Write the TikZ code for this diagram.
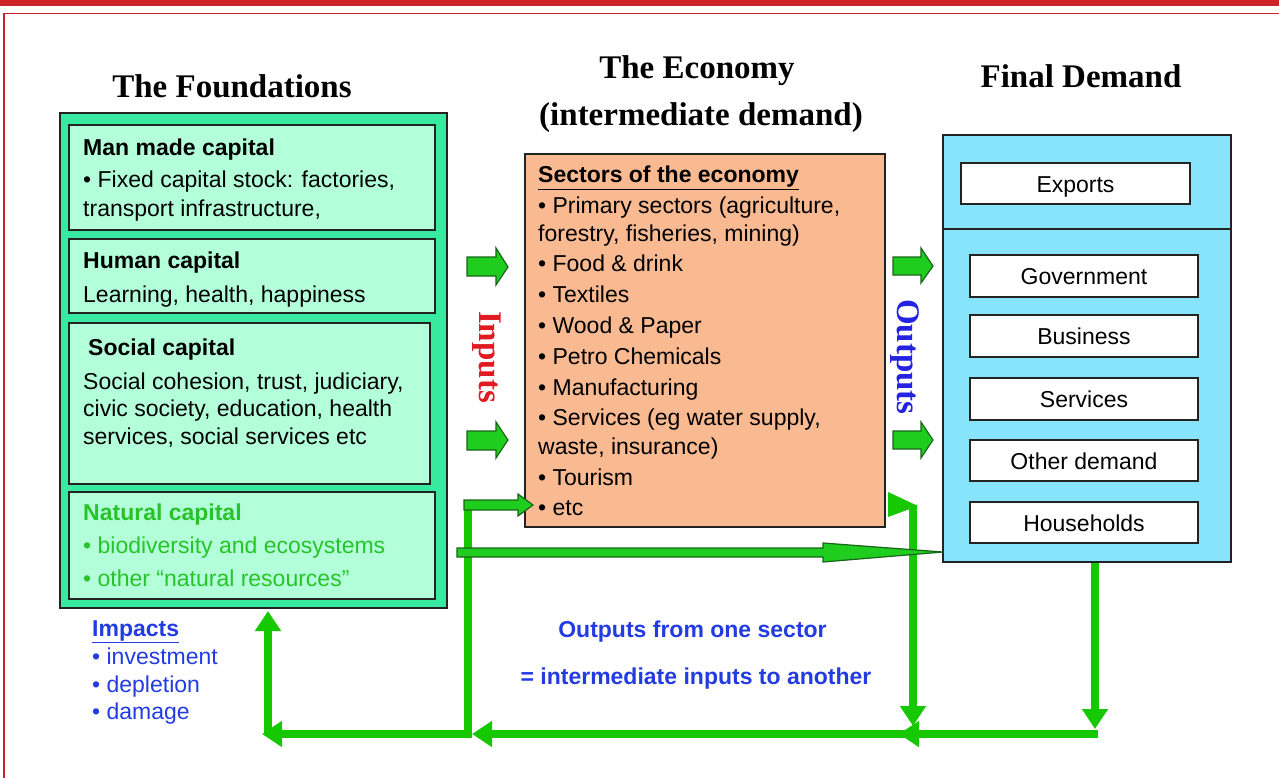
\documentclass[tikz,border=0pt]{standalone}
\usepackage{fontspec}
\setmainfont{Liberation Sans}
\newfontfamily\headfont{Liberation Serif}
\usetikzlibrary{arrows.meta}
\definecolor{bordred}{RGB}{204,34,41}
\definecolor{fgreen}{RGB}{55,234,160}
\definecolor{mint}{RGB}{178,255,218}
\definecolor{peach}{RGB}{249,186,146}
\definecolor{sky}{RGB}{136,228,250}
\definecolor{glinec}{RGB}{22,200,0}
\definecolor{garrow}{RGB}{30,205,30}
\definecolor{natgreen}{RGB}{40,195,40}
\definecolor{txtblue}{RGB}{35,60,225}
\definecolor{outblue}{RGB}{35,35,225}
\definecolor{inred}{RGB}{225,25,35}
\definecolor{edgec}{RGB}{35,35,35}
\begin{document}
\begin{tikzpicture}[x=1pt,y=-1pt,
  box/.style={draw=edgec, line width=1.8pt, inner sep=0pt},
  txt/.style={anchor=base west, inner sep=0pt, font=\fontsize{23}{28}\selectfont},
  ctxt/.style={anchor=base, inner sep=0pt, font=\fontsize{23}{28}\selectfont},
  head/.style={anchor=base, inner sep=0pt, font=\headfont\bfseries\fontsize{33}{40}\selectfont},
  gl/.style={draw=glinec, line width=7.5pt},
  tip/.style={-{Triangle[length=20pt,width=25pt]}},
  barrow/.style={fill=garrow, draw=edgec!70!green, line width=1.2pt, line join=miter}]
\useasboundingbox (0,0) rectangle (1279,778);
% frame
\fill[bordred] (0,0) rectangle (1279,6);
\draw[bordred, line width=1.5pt] (4,778) -- (4,13.3) -- (1279,13.3);
% headings
\node[head] (hfound) at (232,98) {The Foundations};
\node[head] (hecon1) at (697,79) {The Economy};
\node[head] (hecon2) at (701,126) {(intermediate demand)};
\node[head] (hfinal) at (1081,88) {Final Demand};
% foundations
\node[box, fill=fgreen, minimum width=387pt, minimum height=495pt] (found) at (253.5,360.5) {};
\node[box, fill=mint, minimum width=366pt, minimum height=105pt] (mm) at (252,177.5) {};
\node[box, fill=mint, minimum width=366pt, minimum height=74pt] (hc) at (252,276) {};
\node[box, fill=mint, minimum width=361pt, minimum height=161pt] (sc) at (249.5,403.5) {};
\node[box, fill=mint, minimum width=366pt, minimum height=107pt] (nc) at (252,545.5) {};
\node[txt, font=\bfseries\fontsize{23}{28}\selectfont] (mm1) at (83,156) {Man made capital};
\node[txt] (mm2) at (83,188) {• Fixed capital stock: factories,};
\node[txt] (mm3) at (83,217) {transport infrastructure,};
\node[txt, font=\bfseries\fontsize{23}{28}\selectfont] (hc1) at (83,268) {Human capital};
\node[txt] (hc2) at (83,302) {Learning, health, happiness};
\node[txt, font=\bfseries\fontsize{23}{28}\selectfont] (sc1) at (88,355) {Social capital};
\node[txt] (sc2) at (83,389) {Social cohesion, trust, judiciary,};
\node[txt] (sc3) at (83,416) {civic society, education, health};
\node[txt] (sc4) at (83,444) {services, social services etc};
\node[txt, text=natgreen, font=\bfseries\fontsize{23}{28}\selectfont] (nc1) at (83,520) {Natural capital};
\node[txt, text=natgreen] (nc2) at (83,553) {• biodiversity and ecosystems};
\node[txt, text=natgreen] (nc3) at (83,586) {• other “natural resources”};
% economy
\node[box, fill=peach, minimum width=360pt, minimum height=373pt] (econ) at (705,340.5) {};
\node[txt, font=\bfseries\fontsize{23}{28}\selectfont] (e0) at (538,183) {\underline{Sectors of the economy}};
\node[txt] (e1) at (538,213) {• Primary sectors (agriculture,};
\node[txt] (e2) at (538,241) {forestry, fisheries, mining)};
\node[txt] (e3) at (538,271) {• Food \& drink};
\node[txt] (e4) at (538,302) {• Textiles};
\node[txt] (e5) at (538,333) {• Wood \& Paper};
\node[txt] (e6) at (538,364) {• Petro Chemicals};
\node[txt] (e7) at (538,395) {• Manufacturing};
\node[txt] (e8) at (538,425) {• Services (eg water supply,};
\node[txt] (e9) at (538,454) {waste, insurance)};
\node[txt] (e10) at (538,485) {• Tourism};
\node[txt] (e11) at (538,515) {• etc};
% final demand
\node[box, fill=sky, minimum width=288pt, minimum height=427pt] (fd) at (1087,348.5) {};
\draw[edgec, line width=1.8pt] (fd.west |- 0,229) -- (fd.east |- 0,229);
\node[box, fill=white, minimum width=229pt, minimum height=41pt] (exp) at (1075.5,183.5) {};
\node[box, fill=white, minimum width=228pt, minimum height=42pt] (gov) at (1084,276) {};
\node[box, fill=white, minimum width=228pt, minimum height=42pt] (bus) at (1084,336) {};
\node[box, fill=white, minimum width=228pt, minimum height=42pt] (ser) at (1084,399) {};
\node[box, fill=white, minimum width=228pt, minimum height=41pt] (oth) at (1084,460.5) {};
\node[box, fill=white, minimum width=228pt, minimum height=41pt] (hh) at (1084,522.5) {};
\node[ctxt] (lexp) at (1075.5,193) {Exports};
\node[ctxt] (lgov) at (1084,284.5) {Government};
\node[ctxt] (lbus) at (1084,344.5) {Business};
\node[ctxt] (lser) at (1084,407.5) {Services};
\node[ctxt] (loth) at (1084,469) {Other demand};
\node[ctxt] (lhh) at (1084,531) {Households};
% inputs / outputs
\node[rotate=-90, inner sep=0pt, text=inred, font=\headfont\bfseries\fontsize{33}{40}\selectfont] (inputs) at (487,357) {Inputs};
\node[rotate=-90, inner sep=0pt, text=outblue, font=\headfont\bfseries\fontsize{33}{40}\selectfont] (outputs) at (905,357) {Outputs};
\draw[barrow] (467,257) -- (496,257) -- (496,248) -- (508,267) -- (496,285) -- (496,276) -- (467,276) -- cycle;
\draw[barrow] (467,431) -- (496,431) -- (496,422) -- (508,440) -- (496,458) -- (496,450) -- (467,450) -- cycle;
\draw[barrow] (893,257) -- (921,257) -- (921,248) -- (933,266) -- (921,283) -- (921,275) -- (893,275) -- cycle;
\draw[barrow] (893,431) -- (921,431) -- (921,422) -- (933,440) -- (921,458) -- (921,449) -- (893,449) -- cycle;
% texts below
\node[txt, text=txtblue, font=\bfseries\fontsize{23}{28}\selectfont] (imp0) at (92,636) {\underline{Impacts}};
\node[txt, text=txtblue] (imp1) at (92,664) {• investment};
\node[txt, text=txtblue] (imp2) at (92,692) {• depletion};
\node[txt, text=txtblue] (imp3) at (92,719) {• damage};
\node[ctxt, text=txtblue, font=\bfseries\fontsize{23}{28}\selectfont] (o1) at (692.5,637) {Outputs from one sector};
\node[ctxt, text=txtblue, font=\bfseries\fontsize{23}{28}\selectfont] (o2) at (696,684) {= intermediate inputs to another};
% green connectors
\coordinate (fdb) at (1095,563);
\coordinate (fdd) at (1095,729);
\coordinate (br) at (1098,734);
\coordinate (brl) at (899,734);
\coordinate (ebr) at (913,505);
\coordinate (ebd) at (913,726);
\coordinate (bm) at (913,734);
\coordinate (bml) at (472,734);
\coordinate (bl) at (468,737.75);
\coordinate (etcc) at (468,505);
\coordinate (bll) at (468,734);
\coordinate (blt) at (262,734);
\coordinate (lup) at (268,734);
\coordinate (lupt) at (268,611);
\draw[gl, tip] (fdb) -- (fdd);
\draw[gl, tip] (br) -- (brl);
\draw[gl, tip] (ebr) -- (ebd);
\fill[glinec] (888,492) -- (918,506) -- (888,517) -- cycle;
\draw[gl, tip] (bm) -- (bml);
\draw[gl] (bl) -- (etcc);
\draw[gl, tip] (bll) -- (blt);
\draw[gl, tip] (lup) -- (lupt);
\draw[barrow] (464,500) -- (518,500) -- (518,494) -- (533,505) -- (518,516) -- (518,510) -- (464,510) -- cycle;
\draw[barrow] (457,548) -- (823,548) -- (823,543) -- (943,552) -- (823,562) -- (823,557) -- (457,557) -- cycle;
\end{tikzpicture}
\end{document}
